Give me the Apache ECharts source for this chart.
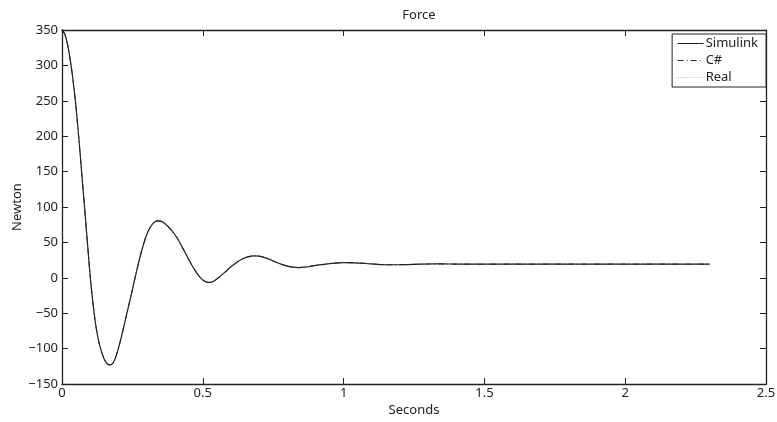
<!DOCTYPE html>
<html>
<head>
<meta charset="utf-8">
<script src="https://cdn.jsdelivr.net/npm/echarts@6/dist/echarts.min.js"></script>
<style>html,body{margin:0;padding:0;background:#fff}#c{width:777px;height:422px}</style>
</head>
<body>
<div id="c"></div>
<script>
var time = [0,0.01,0.02,0.03,0.04,0.05,0.06,0.07,0.08,0.09,0.10,0.11,0.12,0.13,0.14,0.15,0.16,0.17,0.18,0.19,0.20,0.21,0.22,0.23,0.24,0.25,0.26,0.27,0.28,0.29,0.30,0.31,0.32,0.33,0.34,0.35,0.36,0.37,0.38,0.39,0.40,0.41,0.42,0.43,0.44,0.45,0.46,0.47,0.48,0.49,0.50,0.51,0.52,0.53,0.54,0.56,0.58,0.60,0.62,0.64,0.66,0.68,0.70,0.72,0.74,0.76,0.78,0.80,0.82,0.84,0.86,0.88,0.90,0.93,0.96,1.00,1.04,1.08,1.12,1.16,1.20,1.25,1.30,1.35,1.40,1.50,1.60,1.80,2.00,2.30];
var simulink = [350,344,329,306,276,240,196,148,100,51,3,-36,-67,-89,-104,-115,-121,-123,-121,-113,-100,-85,-68,-51,-34,-17,1,18,34,48,60,69,75,79,80.5,80,78,75,71,66.5,61.5,55.5,48.5,41,33.5,26,18.5,12,6,1,-3,-5.5,-6.5,-6.2,-4.5,1.5,8.5,15.5,21.5,26.5,29.5,31,30.5,28.5,25.5,22,19,16.5,15,14.5,15,16,17.5,19,20.5,21.5,21.2,20.2,19,18.4,18.5,19,19.5,19.6,19.4,19.2,19.3,19.3,19.3,19.3];
var csharp = simulink.slice();
var real = simulink.slice();
var seriesNames = ['Simulink','C#','Real'];
var yTicks = {min:-150, max:350, step:50};
var xTicks = {min:0, max:2.5, step:0.5};

function pairs(v){ return time.map(function(t,i){ return [t, v[i]]; }); }

var font = 'Noto Sans, Liberation Sans, sans-serif';
var fs = 13;
var axisCommon = {
  axisLine:{show:true, onZero:false, lineStyle:{color:'#222', width:1.3}},
  axisTick:{show:true, inside:true, length:6, lineStyle:{color:'#222'}},
  splitLine:{show:false}
};
var chart = echarts.init(document.getElementById('c'), null, {renderer:'canvas'});
chart.setOption({
  animation:false,
  backgroundColor:'#fff',
  color:['#222','#333','#aaa'],
  title:{text:'Force', left:414, top:4, textAlign:'center',
    textStyle:{fontFamily:font, fontSize:fs, fontWeight:'normal', color:'#222'}},
  grid:{left:62, right:11, top:30, bottom:38, containLabel:false, outerBoundsMode:'none'},
  legend:{
    orient:'vertical', right:11, top:34, data:seriesNames,
    backgroundColor:'#fff', borderColor:'#222', borderWidth:1,
    padding:[3,8,3,5], itemGap:4, itemWidth:26, itemHeight:14,
    itemStyle:{opacity:0}, lineStyle:{width:1},
    textStyle:{fontFamily:font, fontSize:fs, color:'#222', padding:[0,0,0,-3]}
  },
  xAxis:[
    Object.assign({type:'value', min:xTicks.min, max:xTicks.max, interval:xTicks.step, position:'bottom',
      name:'Seconds', nameLocation:'middle', nameGap:20, nameMoveOverlap:false,
      nameTextStyle:{fontFamily:font, fontSize:fs, color:'#222'},
      axisLabel:{fontFamily:font, fontSize:fs, color:'#222', margin:3}}, axisCommon),
    Object.assign({type:'value', min:xTicks.min, max:xTicks.max, interval:xTicks.step, position:'top',
      axisLabel:{show:false}}, axisCommon)
  ],
  yAxis:[
    Object.assign({type:'value', min:yTicks.min, max:yTicks.max, interval:yTicks.step, position:'left',
      name:'Newton', nameLocation:'middle', nameGap:38, nameRotate:90, nameMoveOverlap:false,
      nameTextStyle:{fontFamily:font, fontSize:fs, color:'#222'},
      axisLabel:{fontFamily:font, fontSize:fs, color:'#222', margin:4,
        formatter:function(v){ return String(v).replace('-', '\u2212'); }}}, axisCommon),
    Object.assign({type:'value', min:yTicks.min, max:yTicks.max, interval:yTicks.step, position:'right',
      axisLabel:{show:false}}, axisCommon)
  ],
  series:[
    {name:'Real', type:'line', data:pairs(real), symbol:'none', smooth:0.3, z:1,
      itemStyle:{color:'#aaa'}, lineStyle:{color:'#aaa', width:1, type:[1,2]}},
    {name:'C#', type:'line', data:pairs(csharp), symbol:'none', smooth:0.3, z:2,
      itemStyle:{color:'#333'}, lineStyle:{color:'#333', width:1, type:[6,3,1,3]}},
    {name:'Simulink', type:'line', data:pairs(simulink), symbol:'none', smooth:0.3, z:3,
      itemStyle:{color:'#222'}, lineStyle:{color:'#222', width:1.2}}
  ]
});
</script>
</body>
</html>
